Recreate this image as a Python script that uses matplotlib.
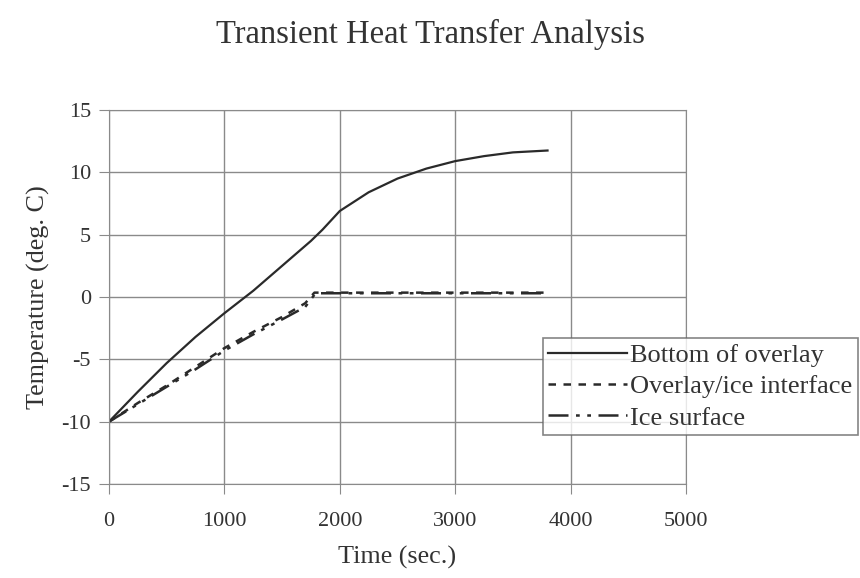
import matplotlib
matplotlib.use("Agg")
import matplotlib.pyplot as plt

time_bottom = [0, 250, 500, 750, 1000, 1250, 1500, 1750, 1850, 1950, 2000, 2250, 2500, 2750, 3000, 3250, 3500, 3800]
bottom = [-10, -7.6, -5.3, -3.2, -1.3, 0.5, 2.5, 4.5, 5.4, 6.4, 6.9, 8.4, 9.5, 10.3, 10.9, 11.3, 11.6, 11.75]

time_iface = [0, 250, 500, 750, 1000, 1250, 1500, 1700, 1780, 2000, 2500, 3000, 3500, 3800]
iface = [-10, -8.5, -7.1, -5.6, -4.1, -2.8, -1.6, -0.5, 0.35, 0.35, 0.35, 0.35, 0.35, 0.35]

time_ice = [0, 250, 500, 750, 1000, 1250, 1500, 1700, 1790, 2000, 2500, 3000, 3500, 3800]
ice = [-10, -8.6, -7.2, -5.8, -4.3, -3.0, -1.8, -0.8, 0.3, 0.3, 0.3, 0.3, 0.3, 0.3]

xticks = [0, 1000, 2000, 3000, 4000, 5000]
yticks = [-15, -10, -5, 0, 5, 10, 15]

plt.rcParams['font.family'] = ['Liberation Serif', 'DejaVu Serif']
plt.rcParams['axes.unicode_minus'] = False

fig = plt.figure(figsize=(8.6, 5.78), dpi=100)
ax = fig.add_axes([109/860, 1-484/578, (686-109)/860, (484-110)/578])

ax.plot(time_bottom, bottom, color='#2a2a2a', lw=1.6, label='Bottom of overlay')
ax.plot(time_iface, iface, color='#2a2a2a', lw=1.8, linestyle=(0, (3, 3)), label='Overlay/ice interface')
ax.plot(time_ice, ice, color='#2a2a2a', lw=1.8, linestyle=(0, (8, 3, 1.5, 3, 1.5, 3)), label='Ice surface')

ax.set_xlim(0, 5000)
ax.set_ylim(-15, 15)
ax.set_xticks(xticks)
ax.set_yticks(yticks)
ax.grid(True, color='#8a8a8a', lw=1.0)
for s in ax.spines.values():
    s.set_color('#8a8a8a')
ax.tick_params(colors='#8a8a8a', labelcolor='#333333', labelsize=16, length=7, direction='out')
ax.tick_params(axis='y', pad=6)
ax.tick_params(axis='x', pad=13)
ax.set_xlabel('Time (sec.)', fontsize=18.8, color='#333333', labelpad=11)
ax.set_ylabel('Temperature (deg. C)', fontsize=18.8, color='#333333', labelpad=8)
fig.suptitle('Transient Heat Transfer Analysis', fontsize=23.5, color='#333333', y=1-34/578, va='center')

leg = ax.legend(loc='upper left', bbox_to_anchor=(543/860, 1-338/578), bbox_transform=fig.transFigure,
                borderaxespad=0, fontsize=19, frameon=True, fancybox=False, handlelength=3.0,
                handletextpad=0.1, labelspacing=0.3, borderpad=0.2)
leg.get_frame().set_edgecolor('#666666')
leg.get_frame().set_linewidth(1.2)
for t in leg.get_texts():
    t.set_color('#333333')

fig.savefig('out.png', dpi=100)
